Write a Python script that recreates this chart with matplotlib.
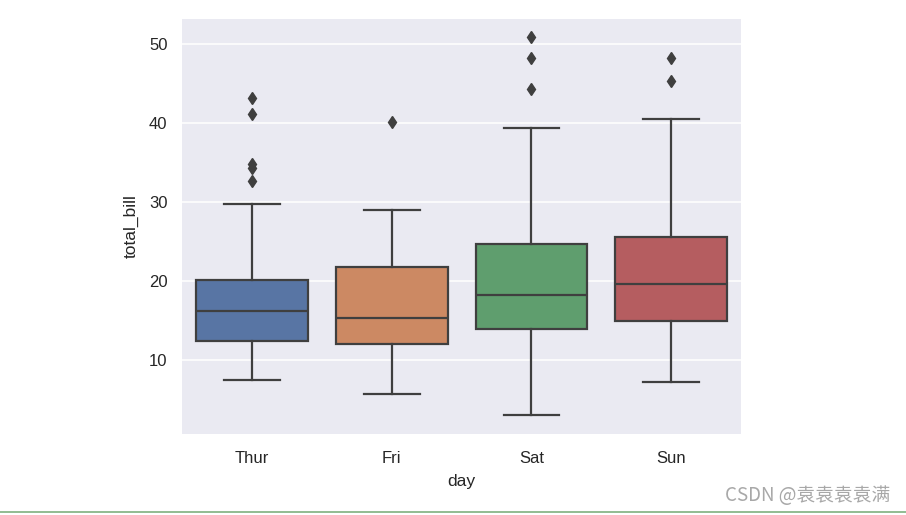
import matplotlib.pyplot as plt
from matplotlib.lines import Line2D

days = ["Thur", "Fri", "Sat", "Sun"]
q1 = [12.44, 12.10, 13.91, 14.99]
median = [16.20, 15.38, 18.24, 19.63]
q3 = [20.16, 21.75, 24.74, 25.60]
whis_lo = [7.51, 5.75, 3.07, 7.25]
whis_hi = [29.80, 28.97, 39.42, 40.55]
fliers = [
    [32.68, 34.30, 34.83, 41.19, 43.11],
    [40.17],
    [44.30, 48.27, 50.81],
    [45.35, 48.17],
]
colors = ["#5875a4", "#cc8963", "#5f9e6e", "#b55d60"]

plt.rcParams["font.family"] = ["Liberation Sans", "DejaVu Sans"]

fig = plt.figure(figsize=(9.06, 5.15), dpi=100)
ax = fig.add_axes([0.201, 0.157, 0.617, 0.807])
ax.set_facecolor("#eaeaf2")
for s in ax.spines.values():
    s.set_visible(False)
ax.grid(axis="y", color="white", linewidth=1.1)
ax.set_axisbelow(True)

stats = []
for i, d in enumerate(days):
    stats.append({"label": d, "q1": q1[i], "med": median[i], "q3": q3[i],
                  "whislo": whis_lo[i], "whishi": whis_hi[i], "fliers": fliers[i]})

line = "#3f3f3f"
bp = ax.bxp(stats, positions=range(len(days)), widths=0.8, patch_artist=True,
            boxprops=dict(edgecolor=line, linewidth=1.6),
            medianprops=dict(color=line, linewidth=1.6),
            whiskerprops=dict(color=line, linewidth=1.6),
            capprops=dict(color=line, linewidth=1.6),
            flierprops=dict(marker="d", markerfacecolor=line, markeredgecolor=line,
                            markersize=6))
for patch, c in zip(bp["boxes"], colors):
    patch.set_facecolor(c)

ax.set_xlim(-0.5, 3.5)
ax.set_ylim(0.68, 53.2)
ax.set_yticks([10, 20, 30, 40, 50])
ax.tick_params(length=0, labelsize=12, colors="#262626")
ax.tick_params(axis="x", pad=12)
ax.tick_params(axis="y", pad=10.5)
ax.set_xlabel("day", fontsize=12.5, color="#262626", labelpad=6)
ax.set_ylabel("total_bill", fontsize=12.5, color="#262626", labelpad=7)

# csdn watermark and the page rule under it
fig.text(0.983, 0.037, "CSDN @袁袁袁袁满", ha="right", va="center", fontsize=13.5,
         color="#a8a8a8", family=["Noto Sans CJK SC", "DejaVu Sans"])
fig.add_artist(Line2D([0, 1], [0.005, 0.005], color="#7fb07f", linewidth=1.2,
                      transform=fig.transFigure))

fig.savefig("out.png", dpi=100)
